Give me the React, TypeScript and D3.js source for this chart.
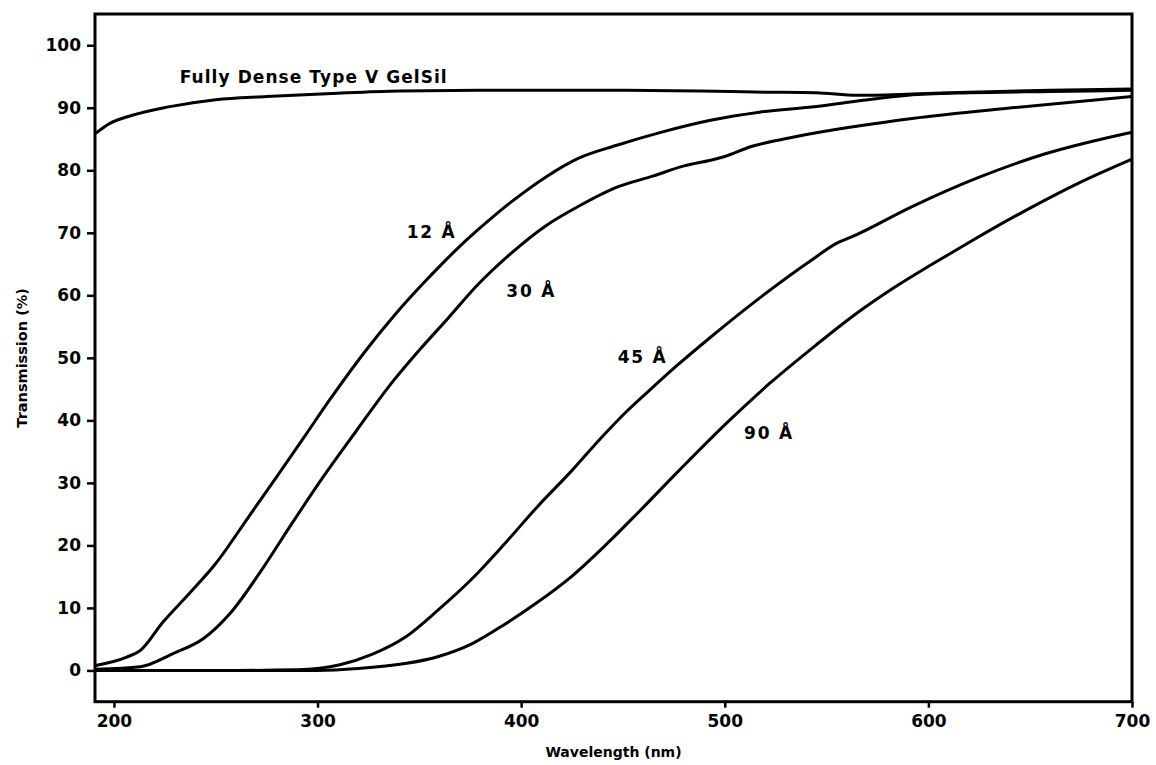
import { useRef, useEffect } from 'react'
import * as d3 from 'd3'

// wavelength (nm), transmission (%)
const fullyDense: [number, number][] = [
  [191, 85.9], [198, 87.5], [209, 88.8], [226, 90.1], [250, 91.3], [275, 91.8],
  [307, 92.3], [340, 92.7], [380, 92.8], [450, 92.8], [520, 92.5], [545, 92.4],
  [565, 92.0], [592, 92.2], [620, 92.5], [660, 92.8], [700, 93.0],
]

const pore12: [number, number][] = [
  [191, 0.8], [206, 2.1], [213, 3.2], [224, 7.7], [237, 12.3], [250, 17.1],
  [266, 24.5], [280, 31.0], [294, 37.6], [306, 43.3], [324, 51.3], [338, 56.9],
  [351, 61.6], [361, 65.0], [374, 69.1], [387, 72.8], [395, 74.9], [412, 78.9],
  [428, 81.9], [447, 84], [469, 86.1], [493, 88], [517, 89.3], [545, 90.2],
  [568, 91.2], [590, 92.0], [620, 92.4], [660, 92.6], [700, 92.8],
]

const pore30: [number, number][] = [
  [191, 0.2], [213, 0.6], [229, 2.7], [244, 5.1], [257, 9.1], [273, 16.3],
  [286, 22.8], [302, 30.6], [319, 38.3], [335, 45.4], [351, 51.6], [364, 56.3],
  [379, 61.8], [395, 66.7], [412, 71.1], [428, 74.2], [447, 77.3], [465, 79.1],
  [480, 80.7], [493, 81.6], [500, 82.2], [513, 83.8], [529, 85.0], [545, 86],
  [592, 88.3], [641, 90], [700, 91.8],
]

const pore45: [number, number][] = [
  [191, 0], [260, 0], [290, 0.1], [311, 0.9], [327, 2.6], [343, 5.3],
  [359, 9.6], [376, 14.7], [392, 20.3], [408, 26.2], [425, 32.0], [439, 37.1],
  [452, 41.5], [465, 45.4], [477, 48.9], [493, 53.3], [518, 59.8], [542, 65.5],
  [556, 68.5], [562, 69.3], [592, 74.2], [625, 78.9], [657, 82.6], [700, 86.1],
]

const pore90: [number, number][] = [
  [191, 0], [300, 0], [320, 0.3], [343, 1.1], [359, 2.2], [376, 4.3],
  [392, 7.4], [408, 10.9], [425, 15.1], [441, 19.9], [457, 25.1], [477, 31.8],
  [501, 39.6], [522, 45.9], [545, 52.1], [563, 56.7], [584, 61.4], [602, 65.0],
  [617, 67.9], [649, 73.8], [674, 78.0], [700, 81.8],
]

const wavelengthTicks = [200, 300, 400, 500, 600, 700]
const transmissionTicks = [0, 10, 20, 30, 40, 50, 60, 70, 80, 90, 100]

// curve labels, anchored at (nm, %) of the text baseline start
const curveLabels: { text: string; at: [number, number]; length: number }[] = [
  { text: 'Fully Dense Type V GelSil', at: [232.3, 93.9], length: 267 },
  { text: '12 Å', at: [343.8, 69.1], length: 48 },
  { text: '30 Å', at: [392.7, 59.7], length: 48 },
  { text: '45 Å', at: [447.4, 49.1], length: 48 },
  { text: '90 Å', at: [509.5, 37.0], length: 48 },
]

const FONT = '"DejaVu Sans", sans-serif'

export default function App() {
  const ref = useRef<SVGSVGElement>(null)

  useEffect(() => {
    if (!ref.current) return
    const svg = d3.select(ref.current)
    svg.selectAll('*').remove()

    const x = d3.scaleLinear().domain([190.7, 700]).range([95, 1132])
    const y = d3.scaleLinear().domain([-5, 105]).range([701.7, 14])
    const [x0, x1] = x.range()
    const [yb, yt] = y.range()

    const line = d3
      .line<[number, number]>()
      .x((d) => x(d[0]))
      .y((d) => y(d[1]))
      .curve(d3.curveMonotoneX)

    // curves
    ;[fullyDense, pore12, pore30, pore45, pore90].forEach((pts) => {
      svg
        .append('path')
        .attr('d', line(pts))
        .attr('fill', 'none')
        .attr('stroke', '#000')
        .attr('stroke-width', 3)
        .attr('stroke-linejoin', 'round')
    })

    // frame
    svg
      .append('rect')
      .attr('x', x0)
      .attr('y', yt)
      .attr('width', x1 - x0)
      .attr('height', yb - yt)
      .attr('fill', 'none')
      .attr('stroke', '#000')
      .attr('stroke-width', 3)

    // y axis
    const yAxis = svg
      .append('g')
      .attr('transform', `translate(${x0},0)`)
      .call(d3.axisLeft(y).tickValues(transmissionTicks).tickSize(8).tickPadding(6))
    yAxis.select('.domain').remove()
    yAxis.selectAll('line').attr('stroke-width', 2.5)
    yAxis
      .selectAll('text')
      .attr('font-family', FONT)
      .attr('font-weight', 'bold')
      .attr('font-size', '17px')
      .attr('fill', '#000')

    // x axis
    const xAxis = svg
      .append('g')
      .attr('transform', `translate(0,${yb})`)
      .call(d3.axisBottom(x).tickValues(wavelengthTicks).tickSize(6).tickPadding(7))
    xAxis.select('.domain').remove()
    xAxis.selectAll('line').attr('stroke-width', 2.5)
    xAxis
      .selectAll('text')
      .attr('font-family', FONT)
      .attr('font-weight', 'bold')
      .attr('font-size', '17px')
      .attr('fill', '#000')

    // axis titles
    svg
      .append('text')
      .attr('x', (x0 + x1) / 2)
      .attr('y', 757)
      .attr('text-anchor', 'middle')
      .attr('font-family', FONT)
      .attr('font-weight', 'bold')
      .attr('font-size', '14px')
      .text('Wavelength (nm)')

    svg
      .append('text')
      .attr('transform', `translate(27,${(yb + yt) / 2}) rotate(-90)`)
      .attr('text-anchor', 'middle')
      .attr('font-family', FONT)
      .attr('font-weight', 'bold')
      .attr('font-size', '14.5px')
      .text('Transmission (%)')

    // curve labels
    curveLabels.forEach((l) => {
      svg
        .append('text')
        .attr('x', x(l.at[0]))
        .attr('y', y(l.at[1]))
        .attr('font-family', FONT)
        .attr('font-weight', 'bold')
        .attr('font-size', '17px')
        .attr('textLength', l.length)
        .attr('lengthAdjust', 'spacing')
        .text(l.text)
    })
  }, [])

  return (
    <svg
      ref={ref}
      width={1156}
      height={765}
      style={{ position: 'absolute', left: 0, top: 0, background: '#fff' }}
    />
  )
}
